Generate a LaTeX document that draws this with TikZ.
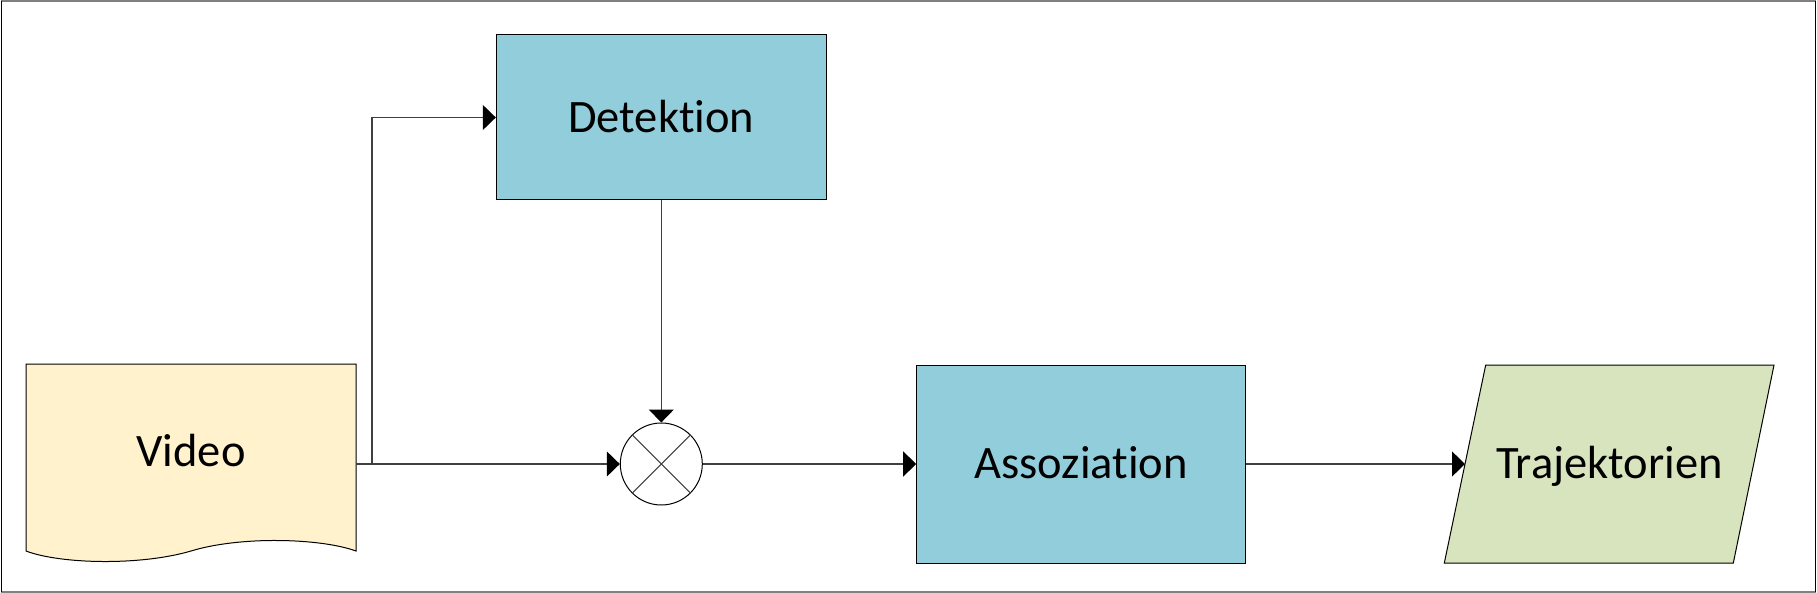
\documentclass[tikz,border=0pt]{standalone}
\usepackage{fontspec}
\setmainfont{Carlito}[Ligatures={NoCommon}]
\usetikzlibrary{arrows.meta}
\definecolor{boxblue}{HTML}{92CDDC}
\definecolor{docyellow}{HTML}{FFF2CC}
\definecolor{outgreen}{HTML}{D7E4BD}
\definecolor{framegray}{HTML}{808080}
\definecolor{conngray}{HTML}{404040}
\begin{document}
\begin{tikzpicture}[x=1pt,y=-1pt,
  lbl/.style={font=\fontsize{46.5}{55}\selectfont, text height=29.6pt, text depth=0pt, inner sep=0pt},
  proc/.style={lbl, draw=black, line width=1pt, fill=boxblue},
  conn/.style={draw=conngray, line width=1.2pt, -{Triangle[length=13pt,width=25pt,color=black]}},
  plain/.style={draw=conngray, line width=1.2pt}]
\useasboundingbox (0,0) rectangle (1817,593);
% frame
\draw[framegray, line width=1.5pt] (1,1) -- (1816,1);
\draw[framegray, line width=1.5pt] (1,592) -- (1816,592);
\draw[black, line width=1.2pt] (1.5,1) -- (1.5,592);
\draw[black, line width=1.2pt] (1815.5,1) -- (1815.5,592);
% Video document shape
\draw[fill=docyellow, draw=black, line width=1pt]
  (26,364) -- (356,364) -- (356,551)
  .. controls (320,538) and (240,536) .. (191,551)
  .. controls (140,566) and (60,564) .. (26,551) -- cycle;
\node[lbl] (video) at (191,451.7) {Video};
\coordinate (videoout) at (356,464);
\coordinate (branch) at (372,464);
% Detektion
\node[proc, minimum width=330pt, minimum height=165pt] (det) at (661.3,117.5) {Detektion};
% mixer
\node[circle, draw=black, line width=1pt, fill=white, minimum size=82pt, inner sep=0pt] (mix) at (661.3,464) {};
\draw[conngray, line width=1pt] (mix.45) -- (mix.225);
\draw[conngray, line width=1pt] (mix.135) -- (mix.315);
% Assoziation
\node[proc, minimum width=329pt, minimum height=198pt] (assoc) at (1081.2,464) {Assoziation};
% Trajektorien
\draw[fill=outgreen, draw=black, line width=1pt]
  (1485.7,365) -- (1774,365) -- (1733.3,563) -- (1444.3,563) -- cycle;
\node[lbl] (traj) at (1609.5,464) {Trajektorien};
\coordinate (trajin) at (1465,464);
% connectors
\draw[plain] (videoout) -- (branch);
\draw[conn] (branch) -- (mix.west);
\draw[conn] (branch) |- (det.west);
\draw[conn] (det.south) -- (mix.north);
\draw[conn] (mix.east) -- (assoc.west);
\draw[conn] (assoc.east) -- (trajin);
\end{tikzpicture}
\end{document}
